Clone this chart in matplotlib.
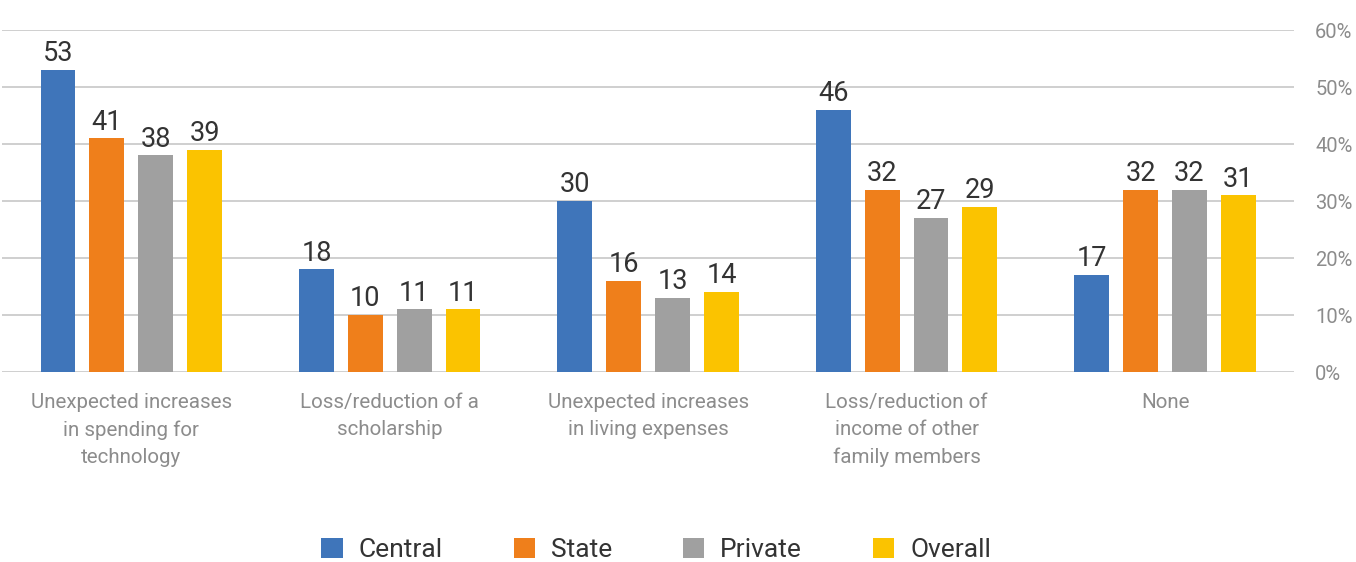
import numpy as np
import matplotlib.pyplot as plt
from matplotlib import font_manager

categories = [
    "Unexpected increases\nin spending for\ntechnology",
    "Loss/reduction of a\nscholarship",
    "Unexpected increases\nin living expenses",
    "Loss/reduction of\nincome of other\nfamily members",
    "None",
]
series = ["Central", "State", "Private", "Overall"]
central = [53, 18, 30, 46, 17]
state = [41, 10, 16, 32, 32]
private = [38, 11, 13, 27, 32]
overall = [39, 11, 14, 29, 31]
yticks = [0, 10, 20, 30, 40, 50, 60]

colors = ["#3f75ba", "#ef7f1b", "#a0a0a0", "#fbc300"]

names = {f.name for f in font_manager.fontManager.ttflist}
family = "Liberation Sans Narrow" if "Liberation Sans Narrow" in names else "Roboto"
plt.rcParams["font.family"] = [family, "DejaVu Sans"]

fig = plt.figure(figsize=(13.56, 5.62), dpi=100)
ax = fig.add_axes([0.0015, 0.338, 0.953, 0.6085])

x = np.arange(len(categories))
width = 0.135
step = 0.189
for i, (name, vals) in enumerate(zip(series, [central, state, private, overall])):
    bars = ax.bar(x + (i - 1.5) * step, vals, width, color=colors[i], label=name, zorder=2)
    ax.bar_label(bars, labels=[str(v) for v in vals], padding=2, fontsize=19.5, color="#333333")

ax.set_xlim(-0.5, len(categories) - 0.5)
ax.set_ylim(0, 60)
ax.set_yticks(yticks)
ax.set_yticklabels([f"{t}%" for t in yticks], fontsize=14.5, color="#8c8c8c")
ax.yaxis.tick_right()
ax.tick_params(axis="y", length=0, pad=15)
ax.grid(axis="y", color="#cccccc", linewidth=1.3, zorder=0)
ax.set_xticks(x)
ax.set_xticklabels(categories, fontsize=14.8, color="#8c8c8c", linespacing=1.55)
ax.tick_params(axis="x", length=0, pad=15)
for s in ax.spines.values():
    s.set_visible(False)

fig.legend(loc="center", bbox_to_anchor=(0.484, 0.021), ncol=4, frameon=False,
           fontsize=19, handlelength=0.8, handleheight=0.8, columnspacing=2.7,
           handletextpad=0.6, labelcolor="#333333")

fig.savefig("out.png", dpi=100)
